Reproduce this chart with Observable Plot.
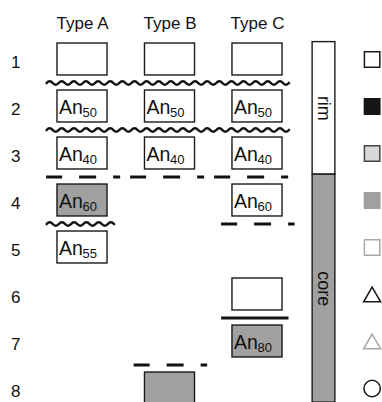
<!DOCTYPE html>
<html>
<head>
<meta charset="utf-8">
<script src="https://cdn.jsdelivr.net/npm/d3@7"></script>
<script src="https://cdn.jsdelivr.net/npm/@observablehq/plot@0.6"></script>
<style>
  html, body { margin: 0; padding: 0; background: #fff; }
  #chart { width: 382px; height: 402px; overflow: hidden; }
</style>
</head>
<body>
<div id="chart"></div>
<script>
// ---------------- data ----------------
const types = ["Type A", "Type B", "Type C"];
const rowNumbers = [1, 2, 3, 4, 5, 6, 7, 8];

const typeARows  = [1, 2, 3, 4, 5];
const typeAAn    = [null, 50, 40, 60, 55];
const typeAShade = ["open", "open", "open", "gray", "open"];

const typeBRows  = [1, 2, 3, 8];
const typeBAn    = [null, 50, 40, null];
const typeBShade = ["open", "open", "open", "gray"];

const typeCRows  = [1, 2, 3, 4, 6, 7];
const typeCAn    = [null, 50, 40, 60, null, 80];
const typeCShade = ["open", "open", "open", "open", "open", "gray"];

// boundaries lie below the given row
const boundaryRow  = [1, 2, 3, 4, 4, 6, 7];
const boundaryFrom = ["Type A", "Type A", "Type A", "Type A", "Type C", "Type C", "Type B"];
const boundaryTo   = ["Type C", "Type C", "Type C", "Type A", "Type C", "Type C", "Type B"];
const boundaryKind = ["wavy", "wavy", "dashed", "wavy", "dashed", "solid", "dashed"];

const zoneNames    = ["rim", "core"];
const zoneFirstRow = [1, 4];
const zoneLastRow  = [3, 8];

const legendKeys = ["open", "filled", "light", "gray", "paleOpen", "triangle", "paleTriangle", "circle"];

// ---------------- layout / style ----------------
const FONT = "'Liberation Sans', Arial, Helvetica, sans-serif";
const GRAY = "#a0a0a0";
const INK = "#1a1a1a";
const BW = 0.286, BH = 0.34;           // half box size in scale units
const BAR_X1 = 3.63, BAR_X2 = 3.89, BAR_XC = 3.76;
const LEGEND_X = 4.31;
const col = t => types.indexOf(t) + 1;

const boxes = [];
[[typeARows, typeAAn, typeAShade, "Type A"],
 [typeBRows, typeBAn, typeBShade, "Type B"],
 [typeCRows, typeCAn, typeCShade, "Type C"]].forEach(([rows, an, shade, t]) => {
  rows.forEach((r, i) => boxes.push({type: t, col: col(t), row: r, an: an[i], shade: shade[i]}));
});
const labeled = boxes.filter(d => d.an != null);

const boundaries = boundaryRow.map((r, i) => ({
  id: i, y: r + 0.5, from: col(boundaryFrom[i]), to: col(boundaryTo[i]), kind: boundaryKind[i]
}));
const wavyPts = boundaries.filter(d => d.kind === "wavy").flatMap(d => [
  {id: d.id, x: d.from - 0.41, y: d.y},
  {id: d.id, x: d.to + 0.36, y: d.y}
]);
const dashed = boundaries.filter(d => d.kind === "dashed");
const solid = boundaries.filter(d => d.kind === "solid");

const zones = zoneNames.map((z, i) => ({
  zone: z,
  y1: i === 0 ? zoneFirstRow[i] - 0.37 : zoneLastRow[i - 1] + 0.45,
  y2: i === zoneNames.length - 1 ? zoneLastRow[i] + 0.3 : zoneLastRow[i] + 0.45
}));

const legendStyle = {
  open:        {symbol: "square",   fill: "white",   stroke: INK},
  filled:      {symbol: "square",   fill: "#151515", stroke: "#151515"},
  light:       {symbol: "square",   fill: "#d8d8d8", stroke: "#444"},
  gray:        {symbol: "square",   fill: GRAY,      stroke: GRAY},
  paleOpen:    {symbol: "square",   fill: "white",   stroke: "#a8a8a8"},
  triangle:    {symbol: "triangle", fill: "none",    stroke: INK},
  paleTriangle:{symbol: "triangle", fill: "none",    stroke: "#a8a8a8"},
  circle:      {symbol: "circle",   fill: "none",    stroke: INK}
};
const legend = legendKeys.map((k, i) => ({key: k, row: rowNumbers[i], ...legendStyle[k]}));

// custom curve: turns a straight segment into a wavy line
function wavyCurve(context) {
  let pts = [];
  return {
    areaStart() {}, areaEnd() {},
    lineStart() { pts = []; },
    point(x, y) { pts.push([+x, +y]); },
    lineEnd() {
      for (let i = 1; i < pts.length; i++) {
        const [x0, y0] = pts[i - 1], [x1] = pts[i];
        const n = Math.max(1, Math.round((x1 - x0) / 6));
        const step = (x1 - x0) / n;
        context.moveTo(x0, y0);
        for (let k = 0; k < n; k++) {
          const s = k % 2 ? 3.4 : -3.4;
          context.quadraticCurveTo(x0 + step * (k + 0.5), y0 + s, x0 + step * (k + 1), y0);
        }
      }
    }
  };
}

const chart = Plot.plot({
  width: 382,
  height: 402,
  marginTop: 27,
  marginLeft: 20,
  marginRight: 0,
  marginBottom: 0,
  style: {fontFamily: FONT, background: "white", color: "#111", overflow: "visible"},
  x: {type: "linear", domain: [1, 3], range: [82, 257]},
  y: {type: "linear", domain: [1, 8], range: [59, 388]},
  marks: [
    Plot.axisX({anchor: "top", ticks: [1, 2, 3], tickFormat: i => types[i - 1], tickSize: 0,
                tickPadding: 0, fontSize: 17, dy: 1.5, label: null}),
    Plot.axisY({anchor: "left", ticks: rowNumbers, tickFormat: d => String(d), tickSize: 0,
                tickPadding: 0, fontSize: 17, dy: 3.5, label: null}),
    // boxes
    Plot.rect(boxes, {x1: d => d.col - BW, x2: d => d.col + BW, y1: d => d.row - BH, y2: d => d.row + BH,
                      fill: d => d.shade === "gray" ? GRAY : "white", stroke: INK, strokeWidth: 1.4}),
    Plot.text(labeled, {x: "col", y: "row", text: () => "An", textAnchor: "start", dx: -23.5, dy: 1,
                        fontSize: 19.5, fill: "#111"}),
    Plot.text(labeled, {x: "col", y: "row", text: d => String(d.an), textAnchor: "start", dx: 0, dy: 6.5,
                        fontSize: 13, fill: "#111"}),
    // boundaries
    Plot.line(wavyPts, {x: "x", y: "y", z: "id", curve: wavyCurve, stroke: "#111", strokeWidth: 2.6}),
    Plot.ruleY(dashed, {y: "y", x1: d => d.from - 0.41, x2: d => d.to + 0.43, stroke: "#111",
                        strokeWidth: 3, strokeDasharray: "16,17,17,17,7,10"}),
    Plot.ruleY(solid, {y: "y", x1: d => d.from - 0.41, x2: d => d.to + 0.36, stroke: "#111", strokeWidth: 3}),
    // rim / core bar
    Plot.rect(zones, {x1: BAR_X1, x2: BAR_X2, y1: "y1", y2: "y2",
                      fill: d => d.zone === "rim" ? "white" : GRAY, stroke: INK, strokeWidth: 1.4}),
    Plot.text(zones, {x: BAR_XC, y: d => (d.y1 + d.y2) / 2, text: "zone", rotate: 90, fontSize: 18, fill: "#111"}),
    // legend symbols
    Plot.dot(legend.filter(d => d.symbol === "square"), {x: LEGEND_X, y: "row", symbol: "square", r: 8.7,
             fill: d => d.fill, stroke: d => d.stroke, strokeWidth: 1.5}),
    Plot.dot(legend.filter(d => d.symbol === "triangle"), {x: LEGEND_X, y: "row", symbol: "triangle", r: 6.3,
             dy: 2.4, fill: "none", stroke: d => d.stroke, strokeWidth: 1.5}),
    Plot.dot(legend.filter(d => d.symbol === "circle"), {x: LEGEND_X, y: "row", symbol: "circle", r: 8.2,
             fill: "none", stroke: d => d.stroke, strokeWidth: 1.5})
  ]
});
document.getElementById("chart").appendChild(chart);
</script>
</body>
</html>
